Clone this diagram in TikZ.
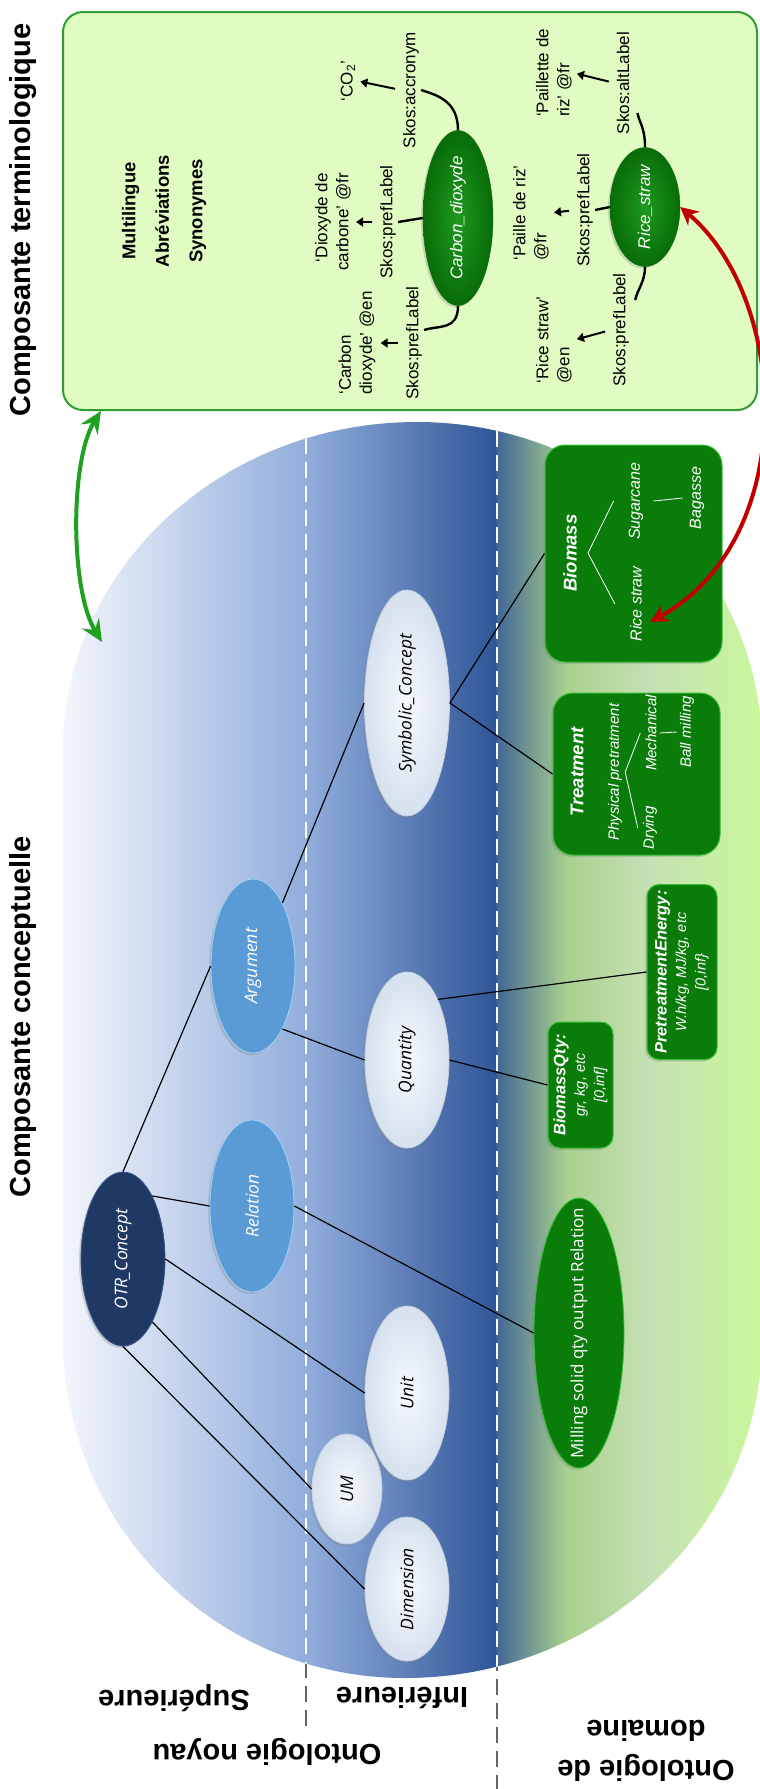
\documentclass[tikz,border=0pt]{standalone}
\usepackage{fontspec}
\setmainfont{Liberation Sans}
\newfontfamily\ellfont{Open Sans}
\usepackage{xcolor}
\usepackage{tikz}
\usetikzlibrary{arrows.meta,shapes.geometric,shadows}
\definecolor{BgWhite}{HTML}{F4F7FC}
\definecolor{BgLight}{HTML}{91ADDC}
\definecolor{BgDark}{HTML}{2F5597}
\definecolor{BgGreen}{HTML}{A9D08E}
\definecolor{BgPale}{HTML}{C6E1B5}
\definecolor{BgLime}{HTML}{C9F89B}
\definecolor{NavyNode}{HTML}{203864}
\definecolor{NavyEdge}{HTML}{3A5688}
\definecolor{SkyNode}{HTML}{5B9BD5}
\definecolor{SkyEdge}{HTML}{9DD3F7}
\definecolor{PaleNode}{HTML}{D6E1EF}
\definecolor{PaleHigh}{HTML}{F6F9FD}
\definecolor{PaleEdge}{HTML}{C3CFDF}
\definecolor{LeafGreen}{HTML}{0A7C0A}
\definecolor{LeafEdge}{HTML}{34BE34}
\definecolor{TermFill}{HTML}{E1FCC2}
\definecolor{TermEdge}{HTML}{2E9E2E}
\definecolor{TermHigh}{HTML}{1E9A1E}
\definecolor{TermDark}{HTML}{086C08}
\definecolor{LinkGreen}{HTML}{1FA01F}
\definecolor{LinkRed}{HTML}{C00000}

\begin{document}
\begin{tikzpicture}[
  x=1pt, y=-1pt,
  title/.style={rotate=90, inner sep=0pt, font=\bfseries\fontsize{29}{34}\selectfont},
  tier/.style={rotate=180, inner sep=0pt, align=center, font=\bfseries\fontsize{29}{40}\selectfont},
  softshadow/.style={drop shadow={opacity=0.3, shadow xshift=-2pt, shadow yshift=-2pt}},
  concept/.style={ellipse, rotate=90, inner sep=0pt, line width=0.8pt, softshadow, font=\ellfont\itshape\fontsize{17.5}{20}\selectfont},
  navy/.style={concept, fill=NavyNode, draw=NavyEdge, text=white},
  sky/.style={concept, fill=SkyNode, draw=SkyEdge, text=white},
  pale/.style={concept, inner color=PaleHigh, outer color=PaleNode, draw=PaleEdge, text=black},
  leaf/.style={concept, fill=LeafGreen, draw=LeafEdge, text=white},
  leafbox/.style={rectangle, rotate=90, rounded corners=12pt, fill=LeafGreen, draw=LeafEdge, line width=1pt, softshadow, inner sep=2pt, align=center, text=white, font=\itshape\fontsize{14.5}{19.5}\selectfont},
  boxhead/.style={rotate=90, inner sep=2pt, text=white, font=\bfseries\itshape\fontsize{18.5}{20}\selectfont},
  boxitem/.style={rotate=90, inner sep=2pt, text=white, font=\itshape\fontsize{16}{18}\selectfont},
  twig/.style={white, line width=0.8pt},
  tie/.style={line width=1.2pt},
  termnode/.style={ellipse, rotate=90, inner sep=0pt, inner color=TermHigh, outer color=TermDark, draw=TermDark, softshadow, text=white, font=\itshape\fontsize{17}{20}\selectfont},
  skos/.style={rotate=90, inner sep=2pt, font=\fontsize{17}{21}\selectfont},
  termline/.style={line width=2.4pt},
  termarr/.style={-{Triangle[length=7pt,width=9pt]}, line width=2pt, shorten <=6pt, shorten >=3pt},
  dashin/.style={white, line width=2.5pt, dash pattern=on 16pt off 8pt},
  dashout/.style={black!60, line width=2.5pt, dash pattern=on 16pt off 8pt},
  linkarr/.style={{Stealth[length=22pt,width=20pt,inset=8pt]}-{Stealth[length=22pt,width=20pt,inset=8pt]}, LinkGreen, line width=4pt},
  redarr/.style={{Stealth[length=18pt,width=18pt,inset=6pt]}-{Stealth[length=18pt,width=18pt,inset=6pt]}, LinkRed, line width=4pt}
]
  \clip (0,0) rectangle (760,1789);

  \draw[dashout] (306,438) -- (306,1732);
  \draw[dashout] (497,431) -- (497,1789);
  \begin{scope}
    \clip (63,750) arc[start angle=180, end angle=90, x radius=354pt, y radius=328pt]
      arc[start angle=90, end angle=0, x radius=345pt, y radius=328pt]
      -- (762,1338)
      arc[start angle=0, end angle=-90, x radius=357pt, y radius=340pt]
      arc[start angle=-90, end angle=-180, x radius=342pt, y radius=340pt] -- cycle;
    \shade[left color=BgWhite, right color=BgLight] (60,420) rectangle (307,1680);
    \shade[left color=BgLight, right color=BgDark] (306,420) rectangle (498,1680);
    \shade[left color=BgDark!85!BgGreen, right color=BgGreen] (497,420) rectangle (566,1680);
    \shade[left color=BgGreen, right color=BgPale] (565,420) rectangle (651,1680);
    \shade[left color=BgPale, right color=BgLime] (650,420) rectangle (765,1680);
    \draw[dashin] (306,438) -- (306,1732);
    \draw[dashin] (497,431) -- (497,1789);
  \end{scope}

  \node[rectangle, rounded corners=20pt, fill=TermFill, draw=TermEdge, line width=2pt, minimum width=694pt, minimum height=398pt] (term) at (410,211) {};

  \node[title] (termtitle) at (23,220) {Composante terminologique};
  \node[title] (concepttitle) at (23,1017) {Composante conceptuelle};

  \node[tier] (sup) at (174,1698) {Supérieure};
  \node[tier] (inf) at (402,1698) {Inférieure};
  \node[tier] (noyau) at (267,1752) {Ontologie noyau};
  \node[tier] (domaine) at (646,1751) {Ontologie de\\domaine};

  \node[navy, minimum width=174pt, minimum height=84pt] (otr) at (123,1259) {OTR\_Concept};
  \node[sky, minimum width=172pt, minimum height=84pt] (rel) at (252,1206) {Relation};
  \node[sky, minimum width=174pt, minimum height=84pt] (arg) at (253,966) {Argument};
  \node[pale, minimum width=226pt, minimum height=85pt] (sym) at (407,703) {Symbolic\_Concept};
  \node[pale, minimum width=176pt, minimum height=84pt] (qty) at (407,1060) {Quantity};
  \node[pale, minimum width=174pt, minimum height=84pt] (unit) at (407,1393) {Unit};
  \node[pale, minimum width=110pt, minimum height=70pt] (um) at (347,1489) {UM};
  \node[pale, minimum width=144pt, minimum height=84pt] (dim) at (407,1589) {Dimension};
  \node[leaf, minimum width=270pt, minimum height=90pt, font=\ellfont\fontsize{17}{20}\selectfont] (mill) at (579,1333) {\makebox[0pt]{Milling solid qty output Relation}};

  \node[leafbox, rounded corners=20pt, minimum width=217pt, minimum height=177pt] (bio) at (633.5,553.5) {};
  \node[leafbox, rounded corners=20pt, minimum width=162pt, minimum height=167pt] (treat) at (636.5,774) {};
  \node[leafbox, minimum width=126pt, minimum height=65pt] (bq) at (580.5,1085) {{\bfseries\fontsize{16.5}{19.5}\selectfont BiomassQty:}\\gr, kg, etc\\{[0,inf]}};
  \node[leafbox, minimum width=175pt, minimum height=70pt] (pe) at (682,972) {{\bfseries\fontsize{16.5}{19.5}\selectfont PretreatmentEnergy:}\\W.h/kg, MJ/kg, etc\\{[0,inf\}}};

  \node[boxhead] (biohead) at (570,553) {Biomass};
  \node[boxitem] (sugar) at (636,501) {Sugarcane};
  \node[boxitem] (ricetxt) at (636,604) {Rice straw};
  \node[boxitem] (bagasse) at (697,498) {Bagasse};
  \draw[twig] ([xshift=9pt]biohead.south) -- ([xshift=-13pt]sugar.north);
  \draw[twig] ([xshift=9pt]biohead.south) -- ([xshift=-13pt]ricetxt.north);
  \draw[twig] ([xshift=8pt]sugar.south) -- ([xshift=-5pt]bagasse.north);

  \node[boxhead] (treathead) at (577,772) {Treatment};
  \node[boxitem, font=\itshape\fontsize{15}{18}\selectfont] (phys) at (615,772) {Physical pretratment};
  \node[boxitem, font=\itshape\fontsize{15}{18}\selectfont] (mech) at (651,733) {Mechanical};
  \node[boxitem, font=\itshape\fontsize{15}{18}\selectfont] (dry) at (650,828) {Drying};
  \node[boxitem, font=\itshape\fontsize{15}{18}\selectfont] (ball) at (687,732) {Ball milling};
  \draw[twig] ([xshift=1pt]phys.south) -- ([xshift=-3pt]mech.north);
  \draw[twig] ([xshift=1pt]phys.south) -- ([xshift=-3pt]dry.north);
  \draw[twig] ([xshift=1pt]mech.south) -- ([xshift=-1pt]ball.north);

  \draw[tie] (otr.east) -- (arg.north);
  \draw[tie] (otr.-25) -- (rel.north);
  \draw[tie] (otr.south) -- (unit.north);
  \draw[tie] (otr.205) -- (um.north);
  \draw[tie] (otr.west) -- (dim.north);
  \draw[tie] (rel.south) -- (mill.north);
  \draw[tie] (arg.-25) -- (sym.north);
  \draw[tie] (arg.205) -- (qty.north);
  \draw[tie] (qty.-27) -- (pe.north);
  \draw[tie] (qty.south) -- (bq.north);
  \draw[tie] (sym.south) -- (treat.north);
  \draw[tie] (sym.south) -- (bio.north);

  \node[rotate=90, align=center, font=\bfseries\fontsize{18.5}{33.5}\selectfont] (facets) at (164,211) {Multilingue\\Abréviations\\Synonymes};
  \node[termnode, minimum width=164pt, minimum height=70pt] (carbon) at (458,218) {Carbon\_dioxyde};
  \node[termnode, minimum width=118pt, minimum height=70pt] (rice) at (645,207) {Rice\_straw};
  \node[skos] (acr) at (411,90) {Skos:accronym};
  \node[skos] (co2) at (348,81) {‘CO\textsubscript{2}’};
  \node[skos] (cfrlab) at (388,222) {Skos:prefLabel};
  \node[skos, align=right] (cfr) at (333,222) {‘Dioxyde de\\carbone’ @fr};
  \node[skos] (cenlab) at (414,343) {Skos:prefLabel};
  \node[skos, align=left] (cen) at (357,343) {‘Carbon\\dioxyde’ @en};
  \node[skos] (altlab) at (623,83) {Skos:altLabel};
  \node[skos, align=left] (alt) at (554,73) {‘Paillette de\\riz’ @fr};
  \node[skos] (rfrlab) at (585,210) {Skos:prefLabel};
  \node[skos, align=left] (rfr) at (531,213) {‘Paille de riz’\\@fr};
  \node[skos] (renlab) at (621,330) {Skos:prefLabel};
  \node[skos, align=left] (ren) at (554,340) {‘Rice straw’\\@en};

  \draw[termline] (carbon.east) .. controls +(0,-30) and +(15,5) .. (acr.south);
  \draw[termline] (carbon.north) -- (cfrlab.south);
  \draw[termline] (carbon.west) .. controls +(0,25) and +(15,-5) .. ([yshift=13pt]cenlab.south);
  \draw[termline] (rice.east) .. controls +(0,-20) and +(2,10) .. ([xshift=6pt,yshift=-30pt]altlab.south);
  \draw[termline] (rice.north) -- (rfrlab.south);
  \draw[termline] (rice.west) .. controls +(0,15) and +(3,-12) .. ([xshift=4pt,yshift=30pt]renlab.south);
  \draw[termarr] (acr.north) -- (co2.south);
  \draw[termarr] (cfrlab.north) -- (cfr.south);
  \draw[termarr] (cenlab.north) -- (cen.south);
  \draw[termarr] (altlab.north) -- (alt.south);
  \draw[termarr] (rfrlab.north) -- (rfr.south);
  \draw[termarr] (renlab.north) -- (ren.south);

  \coordinate (ontotop) at (102,642);
  \draw[linkarr] ([xshift=39pt]term.south west) .. controls (70,460) and (70,590) .. (ontotop);
  \draw[redarr] (rice.south) .. controls (790,300) and (800,540) .. ([xshift=6pt,yshift=-18pt]ricetxt.south);
\end{tikzpicture}
\end{document}
